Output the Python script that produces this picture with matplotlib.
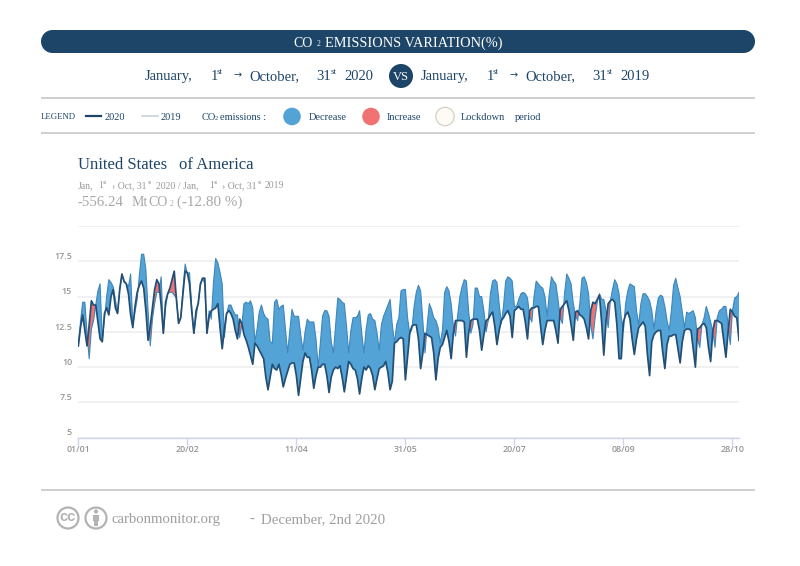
import matplotlib
matplotlib.use("Agg")
import matplotlib.pyplot as plt
from matplotlib.patches import Circle, Rectangle
import numpy as np

plt.rcParams['font.family'] = ['Liberation Serif', 'DejaVu Sans']

values_2019 = [
 11.5,13.2,14.6,14.6,12.4,10.6,12.7,13.3,14.4,15.4,
 15.9,11.9,13.4,15.0,16.2,16.0,15.7,14.8,13.8,15.5,
 16.5,16.0,15.9,15.7,16.6,13.0,13.9,14.8,16.5,18.0,
 18.0,16.9,14.0,11.5,13.4,14.5,15.3,15.3,16.4,12.4,
 14.2,15.2,15.3,15.3,15.1,14.9,13.1,13.6,15.5,17.3,
 16.6,16.7,14.3,12.4,13.5,14.6,15.8,16.3,15.9,12.4,
 14.0,13.4,16.0,17.7,17.4,16.7,15.9,12.1,13.7,14.4,
 14.4,14.0,13.7,13.7,12.1,13.0,14.5,14.6,14.5,14.7,
 14.2,11.8,12.7,13.9,14.4,13.8,13.5,13.4,11.8,11.7,
 14.6,14.8,14.1,14.3,14.4,12.7,11.0,12.6,14.1,13.6,
 13.6,13.6,12.3,11.2,12.5,13.4,13.2,13.2,13.2,12.0,
 10.0,11.7,13.6,14.0,14.0,13.6,11.8,11.0,13.0,14.9,
 14.8,14.6,14.5,12.9,11.0,12.6,13.5,13.5,13.6,14.0,
 12.4,11.0,12.7,13.7,13.8,13.4,13.3,12.4,11.2,13.0,
 13.6,14.0,14.4,14.8,13.0,11.7,13.0,13.5,15.4,15.5,
 15.5,13.5,12.4,12.7,14.3,15.3,15.8,15.4,13.3,11.0,
 13.0,14.5,14.1,13.5,13.3,12.8,11.7,12.6,15.3,15.7,
 15.4,14.5,12.9,12.2,13.7,15.0,15.7,16.2,16.1,14.0,
 12.4,13.0,15.6,15.6,15.0,15.0,14.0,12.5,13.3,15.2,
 16.1,16.2,16.0,14.5,13.1,14.3,16.1,16.4,16.3,16.1,
 14.3,14.3,14.8,15.2,15.3,15.2,14.9,13.6,13.2,15.0,
 16.1,15.9,15.7,15.6,15.0,13.6,15.2,16.4,16.1,15.9,
 14.8,13.5,13.1,15.2,16.6,16.3,15.9,14.5,13.7,13.3,
 14.5,16.3,16.4,16.0,15.2,13.0,12.0,13.5,14.6,15.2,
 14.8,14.8,14.0,12.8,14.7,15.5,16.2,15.9,15.2,13.5,
 12.6,14.5,15.4,15.9,15.8,15.7,14.0,13.0,14.5,15.2,
 15.2,15.0,14.7,14.0,12.7,14.0,14.9,15.1,15.0,14.3,
 13.3,12.6,14.0,15.8,16.3,15.6,15.0,13.9,12.8,13.9,
 13.8,13.9,14.0,13.5,12.0,11.4,13.0,13.5,14.3,13.8,
 13.2,12.5,11.4,13.5,14.0,14.1,14.3,14.3,13.0,11.6,
 14.0,14.9,15.0,15.3]

values_2020 = [
 11.5,12.8,13.7,12.6,11.5,13.0,14.7,14.4,14.4,13.2,
 12.0,11.8,13.8,14.2,13.7,15.0,15.5,14.2,13.8,15.5,
 16.6,16.1,15.9,15.2,13.7,12.8,14.3,15.3,15.8,16.1,
 15.6,14.0,11.9,12.9,14.2,15.5,16.2,15.9,14.4,12.4,
 14.6,15.2,15.6,16.2,16.8,14.8,13.1,13.5,15.2,16.8,
 16.7,15.9,14.0,12.4,14.0,14.5,15.9,16.3,16.3,12.4,
 13.6,14.0,14.1,14.2,14.5,12.8,11.3,12.7,13.8,14.0,
 13.8,13.4,12.6,12.0,13.4,13.1,12.3,11.9,11.4,10.8,
 10.2,11.7,11.5,11.2,10.9,10.6,9.3,8.4,9.3,10.2,
 9.9,9.8,10.2,9.5,8.6,9.2,9.7,10.2,10.3,10.3,
 9.4,8.0,9.2,10.4,11.0,10.7,10.7,9.8,8.5,9.4,
 10.0,10.0,10.2,10.2,9.4,8.2,9.3,9.8,10.0,9.9,
 10.1,9.3,8.25,9.3,10.4,10.2,9.9,9.8,9.2,8.1,
 9.2,10.0,9.8,10.1,9.9,9.4,8.4,9.2,9.9,10.0,
 10.1,10.4,9.6,8.4,9.0,11.7,11.8,12.0,12.1,12.0,
 9.1,10.7,12.4,12.9,13.0,13.0,12.0,9.9,11.0,12.4,
 12.3,12.2,12.1,11.0,9.1,10.6,11.4,11.6,12.1,12.6,
 11.8,10.6,12.4,13.3,13.3,13.3,13.3,13.2,10.7,12.4,
 13.3,13.4,13.4,13.4,12.6,11.2,12.3,13.3,13.4,13.7,
 13.9,12.9,11.6,12.6,13.3,13.5,13.8,14.0,13.6,12.1,
 14.0,14.15,14.3,14.1,14.1,13.2,12.0,14.0,14.2,14.2,
 14.3,14.3,12.9,11.6,12.6,13.3,13.3,13.3,13.3,12.6,
 11.7,14.1,14.3,14.5,14.7,14.0,13.0,11.9,13.9,14.0,
 13.7,13.6,13.4,12.8,12.0,14.0,14.6,14.5,14.8,15.1,
 13.2,10.85,13.2,14.5,14.7,14.8,14.6,13.0,10.6,10.6,
 13.2,13.7,13.9,13.4,12.0,10.9,12.0,12.8,13.0,13.2,
 12.9,10.9,9.4,11.8,12.3,12.5,12.6,12.6,11.1,9.9,
 11.6,12.2,12.2,12.3,12.3,11.3,10.3,11.8,12.6,12.7,
 12.7,12.6,11.3,10.0,12.7,12.8,13.0,13.1,12.8,11.4,
 10.4,12.6,13.3,13.3,13.2,13.1,11.9,10.7,12.5,14.1,
 13.9,13.6,13.5,11.9]

x_tick_pos = [0, 50, 100, 150, 200, 250, 300]
x_tick_labels = ['01/01', '20/02', '11/04', '31/05', '20/07', '08/09', '28/10']
y_ticks = [5, 7.5, 10, 12.5, 15, 17.5, 20]
y_labels = ['5', '7.5', '10', '12.5', '15', '17.5', '']

NAVY = '#1d4568'
BLUE = '#54a3d6'
RED = '#f07272'
GREY = '#a8a8a8'

W, H = 800, 566
fig = plt.figure(figsize=(W/100, H/100), dpi=100)
fig.patch.set_facecolor('white')

# ---- chart
left, right, top, bottom = 78.3, 739.0, 226.0, 437.7
ax = fig.add_axes([left/W, 1-bottom/H, (right-left)/W, (bottom-top)/H])
days = np.arange(len(values_2020))
v19 = np.array(values_2019)
v20 = np.array(values_2020)
ax.fill_between(days, v19, v20, where=v19 >= v20, interpolate=True, color=BLUE, lw=0, zorder=2)
ax.fill_between(days, v19, v20, where=v19 < v20, interpolate=True, color=RED, lw=0, zorder=2)
ax.plot(days, v19, color='#3f86bb', lw=0.8, zorder=3)
ax.plot(days, v20, color='#234f75', lw=1.25, zorder=4, solid_joinstyle='round')
ax.set_xlim(0, len(days)-1)
ax.set_ylim(5, 20)
ax.set_yticks(y_ticks)
ax.set_yticklabels([])
ax.set_xticks(x_tick_pos)
ax.set_xticklabels([])
ax.grid(axis='y', color='#efefef', lw=1.2, zorder=0)
ax.set_axisbelow(True)
for s in ['top', 'right', 'left']:
    ax.spines[s].set_visible(False)
ax.spines['bottom'].set_color('#ccd6eb')
ax.spines['bottom'].set_linewidth(1)
ax.tick_params(axis='x', length=5, color='#ccd6eb', width=1)
ax.tick_params(axis='y', length=0)
ax.patch.set_alpha(0)

# ---- page overlay in pixel coordinates
ov = fig.add_axes([0, 0, 1, 1], zorder=5)
ov.set_xlim(0, W)
ov.set_ylim(H, 0)
ov.axis('off')
ov.patch.set_alpha(0)

def t(x, y, s, size, color=NAVY, ha='left', **kw):
    return ov.text(x, y, s, fontsize=size, color=color, ha=ha, va='center', **kw)

# axis tick labels
tick_font = ['Open Sans', 'DejaVu Sans']
for p, lab in zip(x_tick_pos, x_tick_labels):
    px = left + p/(len(days)-1)*(right-left)
    t(px, 449.5, lab, 6.4, '#959595', ha='center', family=tick_font, fontweight='semibold')
for v, lab in zip(y_ticks, y_labels):
    py = bottom - (v-5)/15*(bottom-top)
    t(72, py-4.8, lab, 6.4, '#959595', ha='right', family=tick_font, fontweight='semibold')

# header pill
ov.add_patch(Rectangle((52.5, 30), 691, 23, fc=NAVY, ec='none'))
ov.add_patch(Circle((52.5, 41.5), 11.5, fc=NAVY, ec='none'))
ov.add_patch(Circle((743.5, 41.5), 11.5, fc=NAVY, ec='none'))
t(293, 43.5, 'CO', 10, 'white')
t(316.5, 44.5, '2', 5.5, 'white')
t(325, 43.5, 'EMISSIONS VARIATION(%)', 10.4, 'white')

# date line
def date_line(offs, year):
    t(offs, 76.5, 'January,', 10.5)
    t(offs+66, 76.5, '1', 10.5)
    t(offs+72.5, 72.5, 'st', 6.5)
    t(offs+89, 75, '→', 7, family=['DejaVu Sans'])
    t(offs+105, 76.5, 'October,', 10.5)
    t(offs+172, 76.5, '31', 10.5)
    t(offs+186.5, 72.5, 'st', 6.5)
    t(offs+200, 76.5, year, 10.5)

date_line(144.5, '2020')
date_line(420.5, '2019')
ov.add_patch(Circle((401, 76), 12, fc=NAVY, ec='none'))
t(401, 76.5, 'VS', 9, 'white', ha='center')

# separators
for yy, x0, x1 in [(97.5, 41, 755), (132.5, 41, 755), (490, 41, 755)]:
    ov.plot([x0, x1], [yy, yy], color='#cfcfcf', lw=1.4, solid_capstyle='butt')

# legend
ly = 117.3
t(41, ly, 'LEGEND', 6.3)
ov.plot([86, 101], [ly-1, ly-1], color=NAVY, lw=1.6)
t(105, ly, '2020', 7.5)
ov.plot([142, 158], [ly-1, ly-1], color='#c8d2dc', lw=1.2)
t(161, ly, '2019', 7.5)
t(202, ly, 'CO', 7.5)
t(215, ly+1, '2', 4.5)
t(220, ly, 'emissions :', 7.5)
ov.add_patch(Circle((292, 116.5), 8.8, fc=BLUE, ec='none'))
t(309, ly, 'Decrease', 7.5)
ov.add_patch(Circle((371, 116.5), 8.8, fc=RED, ec='none'))
t(387, ly, 'Increase', 7.5)
ov.add_patch(Circle((445, 116.5), 9.2, fc='#fdfbf3', ec='#d4d2c6', lw=0.9))
t(461, ly, 'Lockdown', 7.5)
t(515, ly, 'period', 7.5)

# chart headings
t(77.5, 165, 'United States', 12)
t(179, 165, 'of America', 12)
sub = '#9a9a9a'
t(78, 185.5, 'Jan,', 7, sub)
t(98, 185.5, '1', 7, sub)
t(102.5, 183, 'st', 4.5, sub)
t(112, 185.5, '› Oct, 31', 7, sub)
t(148, 183, 'st', 4.5, sub)
t(155.5, 185.5, '2020 / Jan,', 7, sub)
t(209.5, 185.5, '1', 7, sub)
t(214, 183, 'st', 4.5, sub)
t(222, 185.5, '› Oct, 31', 7, sub)
t(258, 183, 'st', 4.5, sub)
t(264.5, 185.5, '2019', 7, sub)
t(77.5, 202, '-556.24', 10.7, GREY)
t(132, 202, 'Mt', 10, GREY)
t(148.5, 202, 'CO', 10, GREY)
t(170, 203.5, '2', 5.5, GREY)
t(177, 202, '(-12.80 %)', 10.9, GREY)

# footer
ring = '#b3b3b3'
ov.add_patch(Circle((68, 518), 10.5, fc='white', ec=ring, lw=1.6))
t(68, 517, 'cc', 10.5, ring, ha='center', fontweight='bold', family=['Liberation Sans'])
ov.add_patch(Circle((96, 518), 10.5, fc='white', ec=ring, lw=1.6))
ov.add_patch(Circle((96, 511.5), 2.1, fc=ring, ec='none'))
ov.add_patch(Rectangle((93, 514.5), 6, 6.5, fc=ring, ec='none'))
ov.add_patch(Rectangle((94.2, 521), 3.6, 5, fc=ring, ec='none'))
t(112, 519.5, 'carbonmonitor.org', 10.6, '#9f9f9f')
t(250, 519.5, '-', 10.6, '#9f9f9f')
t(261, 519.5, 'December, 2nd 2020', 10.7, '#9f9f9f')

fig.savefig('out.png', dpi=100, facecolor='white')
